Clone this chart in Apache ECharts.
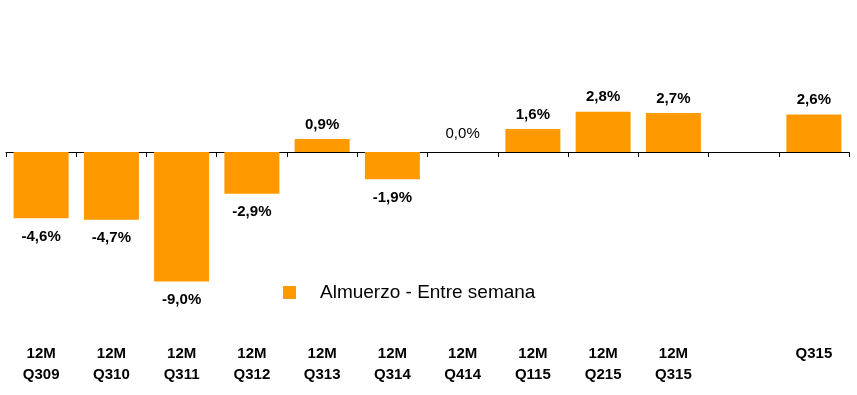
<!DOCTYPE html>
<html>
<head>
<meta charset="utf-8">
<style>html,body{margin:0;padding:0;background:#fff}#c{width:857px;height:395px}</style>
<script src="https://cdn.jsdelivr.net/npm/echarts@6/dist/echarts.min.js"></script>
</head>
<body>
<div id="c"></div>
<script>
var categories = ['12M\nQ309','12M\nQ310','12M\nQ311','12M\nQ312','12M\nQ313','12M\nQ314','12M\nQ414','12M\nQ115','12M\nQ215','12M\nQ315','','Q315'];
var values = [-4.6, -4.7, -9.0, -2.9, 0.9, -1.9, 0.0, 1.6, 2.8, 2.7, null, 2.6];
var seriesName = 'Almuerzo - Entre semana';

var chart = echarts.init(document.getElementById('c'));
var fam = '"Liberation Sans", Arial, sans-serif';
var data = values.map(function (v) {
  if (v === null) return '-';
  var item = {value: v, label: {position: v < 0 ? 'bottom' : 'top', distance: v < 0 ? 11 : 7}};
  if (v === 0) { item.label.fontWeight = 'normal'; item.label.distance = 11; }
  return item;
});
chart.setOption({
  animation: false,
  grid: {left: 6, right: 8, top: 80, height: 216, containLabel: false, outerBoundsMode: 'none'},
  legend: {
    left: 278, top: 278,
    itemWidth: 13, itemHeight: 13,
    icon: 'rect',
    textStyle: {fontFamily: fam, fontSize: 19, color: '#000', padding: [0, 0, 0, 19]},
    data: [seriesName]
  },
  xAxis: [{
    type: 'category',
    data: categories,
    axisLine: {onZero: true, lineStyle: {color: '#000', width: 1}},
    axisTick: {show: true, length: 5, lineStyle: {color: '#000'}},
    axisLabel: {show: false}
  }, {
    type: 'category',
    position: 'bottom',
    data: categories,
    axisLine: {show: false, onZero: false},
    axisTick: {show: false},
    axisLabel: {margin: 47, fontFamily: fam, fontSize: 15, fontWeight: 'bold', color: '#000', lineHeight: 21, interval: 0}
  }],
  yAxis: {
    type: 'value', min: -10, max: 5,
    show: false, splitLine: {show: false}
  },
  series: [{
    name: seriesName,
    type: 'bar',
    barWidth: 55,
    itemStyle: {color: '#ff9900'},
    label: {
      show: true,
      fontFamily: fam, fontSize: 15, fontWeight: 'bold', color: '#000',
      formatter: function (p) { return p.value.toFixed(1).replace('.', ',') + '%'; }
    },
    data: data
  }]
});
</script>
</body>
</html>
